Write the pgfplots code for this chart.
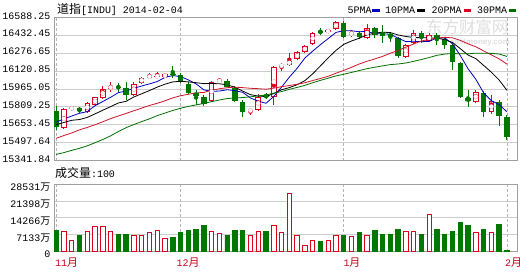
\documentclass[border=0pt]{standalone}
\usepackage{fontspec}
\setmonofont{Liberation Mono}
\newfontfamily\cjk{Noto Sans CJK SC}
\usepackage{pgfplots}
\pgfplotsset{compat=1.18}
\usepackage{pgfplotstable}

\definecolor{cred}{RGB}{220,0,30}
\definecolor{cgreen}{RGB}{0,120,0}
\definecolor{mablue}{RGB}{0,0,190}
\definecolor{mared}{RGB}{205,20,40}
\definecolor{magreen}{RGB}{0,110,0}
\definecolor{gridc}{RGB}{205,205,205}
\definecolor{framec}{RGB}{160,160,160}
\definecolor{monthc}{RGB}{200,0,30}
\definecolor{wmark}{RGB}{222,222,222}

% up (red, hollow) candles: index, open, high, low, close
\pgfplotstableread{
i o h l c
1 15622.1 15798.8 15616.0 15787.5
2 15793.5 15820.5 15777.0 15798.8
4 15766.6 15851.0 15755.2 15842.3
5 15824.9 15898.9 15816.2 15892.8
6 15885.8 15990.3 15881.5 15968.5
7 15972.8 16025.1 15940.6 15981.6
10 15911.9 16025.1 15907.6 16012.0
11 16013.8 16068.6 16007.7 16064.2
12 16068.6 16106.0 16048.6 16074.7
13 16072.9 16114.7 16057.3 16078.2
14 16066.0 16103.4 16059.9 16096.4
20 15859.7 16033.8 15851.0 16025.1
21 16032.0 16064.2 16013.8 16037.3
25 15774.4 15796.2 15737.8 15779.6
26 15781.4 15920.6 15772.7 15898.9
28 15894.5 16164.3 15824.9 16160.0
29 16161.7 16187.8 16123.4 16171.3
30 16173.0 16274.9 16164.3 16212.2
31 16222.7 16294.9 16216.6 16283.6
32 16283.6 16347.1 16277.5 16341.9
33 16355.8 16460.3 16347.1 16455.0
35 16457.7 16486.4 16451.6 16477.7
36 16483.8 16558.6 16477.7 16549.9
38 16442.9 16477.7 16419.4 16449.0
40 16405.4 16529.9 16399.3 16499.4
45 16245.3 16355.8 16238.3 16347.1
46 16367.1 16477.7 16360.2 16455.9
48 16384.5 16454.2 16377.6 16434.2
54 15853.6 15955.4 15846.6 15940.6
56 15766.6 15911.9 15746.5 15857.1
}\up

% down (green, filled) candles
\pgfplotstableread{
i o h l c
0 15772.7 15816.2 15611.7 15630.8
3 15796.2 15807.5 15755.2 15774.4
8 15983.3 16016.4 15942.4 15976.3
9 15970.2 16025.1 15868.4 15916.3
15 16096.4 16164.3 16057.3 16091.2
16 16086.0 16103.4 16016.4 16023.3
17 16007.7 16025.1 15920.6 15929.3
18 15929.3 15955.4 15824.9 15903.2
19 15894.5 15911.9 15820.5 15837.9
22 16032.0 16051.2 15981.6 15985.0
23 15972.8 15990.3 15851.0 15864.0
24 15853.6 15868.4 15723.0 15764.0
27 15911.9 15929.3 15877.1 15891.9
34 16464.6 16492.5 16434.2 16457.7
37 16541.2 16556.0 16412.4 16421.1
39 16454.2 16469.0 16403.7 16414.1
41 16492.5 16506.4 16405.4 16438.5
42 16457.7 16521.2 16361.9 16427.2
43 16442.9 16462.9 16375.8 16419.4
44 16405.4 16416.8 16231.4 16248.8
47 16449.0 16469.0 16361.9 16408.0
49 16434.2 16449.0 16347.1 16396.7
50 16396.7 16414.1 16309.7 16351.5
51 16347.1 16355.8 16129.5 16199.2
52 16187.8 16199.2 15885.8 15897.1
53 15883.2 15955.4 15810.1 15857.1
55 15926.7 15946.7 15723.0 15761.3
57 15853.6 15868.4 15642.1 15726.5
58 15723.0 15737.8 15524.6 15543.7
}\dn

% moving averages
\pgfplotstableread{
i ma5 ma10 ma20 ma30
0 15676.5 15654.9 15535.0 15395.0
1 15703.8 15672.8 15559.6 15410.7
2 15729.0 15692.0 15581.6 15430.7
3 15753.1 15698.3 15608.7 15448.1
4 15766.8 15717.1 15629.6 15469.5
5 15819.2 15747.8 15653.1 15496.8
6 15855.4 15779.6 15679.1 15524.4
7 15891.9 15810.5 15706.1 15556.6
8 15932.3 15842.7 15729.2 15593.6
9 15947.1 15856.9 15752.0 15627.7
10 15970.9 15895.1 15775.0 15655.0
11 15990.1 15922.7 15797.8 15680.6
12 16008.7 15950.3 15821.1 15704.5
13 16029.1 15980.7 15839.5 15732.7
14 16065.1 16006.1 15861.6 15755.1
15 16080.9 16025.9 15886.9 15777.4
16 16072.8 16031.4 15905.5 15796.5
17 16043.7 16026.2 15918.3 15812.8
18 16008.7 16018.9 15930.8 15825.8
19 15957.0 16011.0 15934.0 15838.3
20 15943.8 16012.4 15953.7 15854.1
21 15946.6 16009.7 15966.2 15868.4
22 15957.7 16000.7 15975.5 15881.0
23 15949.9 15979.3 15980.0 15886.1
24 15935.1 15946.0 15976.1 15889.8
25 15886.0 15914.9 15970.4 15896.2
26 15858.3 15902.4 15966.9 15904.5
27 15839.7 15898.7 15962.4 15911.8
28 15898.9 15924.4 15971.6 15928.6
29 15980.3 15957.7 15984.4 15941.9
30 16066.9 15976.4 15994.4 15961.3
31 16143.8 16001.1 16005.4 15977.8
32 16233.8 16036.7 16018.7 15995.9
33 16292.8 16095.8 16037.6 16018.6
34 16350.1 16165.2 16055.6 16039.1
35 16403.2 16235.0 16074.9 16058.6
36 16456.4 16300.1 16101.3 16078.0
37 16472.3 16353.0 16125.9 16092.6
38 16471.1 16381.9 16153.2 16108.4
39 16462.4 16406.2 16182.0 16125.0
40 16466.7 16434.9 16205.7 16141.2
41 16444.4 16450.4 16225.7 16153.7
42 16445.6 16459.0 16247.9 16165.5
43 16439.7 16455.4 16275.6 16176.8
44 16406.7 16434.5 16299.9 16181.9
45 16376.2 16421.5 16328.2 16190.4
46 16379.7 16412.1 16356.1 16204.9
47 16375.8 16410.7 16381.9 16220.8
48 16378.8 16409.3 16395.6 16238.5
49 16408.4 16407.5 16406.9 16257.2
50 16409.3 16392.7 16413.8 16268.0
51 16357.9 16368.8 16409.6 16273.4
52 16255.7 16315.8 16387.4 16270.5
53 16140.3 16259.6 16357.5 16270.3
54 16049.1 16228.7 16331.6 16276.2
55 15931.1 16170.2 16295.8 16275.5
56 15862.6 16110.3 16261.2 16274.2
57 15828.5 16042.1 16226.4 16268.6
58 15765.8 15953.1 16181.2 16248.1
}\ma

% volume (unit: 10^4 shares), up days
\pgfplotstableread{
i v
1 8724
2 4931
4 8724
5 10831
6 10831
7 8430
10 7038
11 7038
12 8302
13 9145
14 5647
20 8724
21 7754
25 7038
26 8724
28 11252
29 8302
30 24600
31 7038
32 2823
33 4636
35 4931
36 7038
38 6322
40 7038
45 8724
46 8724
48 15763
54 8007
56 8007
}\volup

% volume, down days
\pgfplotstableread{
i v
0 9145
3 7038
8 7459
9 7459
15 6069
16 8007
17 9145
18 9567
19 11252
22 7038
23 9145
24 9145
27 8724
34 4214
37 7038
39 8007
41 9145
42 7459
43 7459
44 9567
47 7459
49 9567
50 7459
51 8724
52 12222
53 10958
55 9567
57 11674
58 420
}\voldn

\pgfplotsset{
  kbase/.style={
    scale only axis, width=463bp,
    xmin=-0.283, xmax=59.30,
    axis line style={framec, line width=0.9bp},
    tick style={draw=none},
    scaled x ticks=false, scaled y ticks=false,
    xtick={0,16,37,58}, xticklabel=\empty,
    xmajorgrids, ymajorgrids,
    x grid style={framec!80, dashed, dash pattern=on 2.5bp off 2.5bp, line width=0.7bp},
    y grid style={gridc, line width=0.8bp},
    ticklabel style={font=\ttfamily\fontsize{10}{10}\selectfont},
    yticklabel style={inner sep=0pt, anchor=east, xshift=-3.5bp},
  },
  wick/.style={only marks, mark=none, #1,
    error bars/.cd, y dir=both, y explicit, error mark=none,
    error bar style={line width=1bp, #1}},
  body/.style 2 args={only marks, mark=none, #1,
    error bars/.cd, y dir=both, y explicit, error mark=none,
    error bar style={line width=#2, #1}},
}

\begin{document}
\begin{tikzpicture}
\path (0bp,0bp) rectangle (529bp,-277bp);

% watermark
\node[anchor=base west, inner sep=0, text=wmark] at (426bp,-33bp)
  {\cjk\fontsize{16.5}{16.5}\selectfont 东方财富网};
\node[anchor=base west, inner sep=0, text=wmark] at (450bp,-44bp)
  {\fontspec{Liberation Sans}\bfseries\fontsize{8}{8}\selectfont eastmoney.com};

\begin{axis}[kbase,
  at={(54bp,-160.5bp)}, anchor=south west, height=143.2bp,
  ymin=15341.84, ymax=16588.25,
  ytick={15341.84,15497.64,15653.45,15809.25,15965.05,16120.85,16276.65,16432.45,16588.25},
  yticklabels={15341.84,15497.64,15653.45,15809.25,15965.05,16120.85,16276.65,16432.45,16588.25},
  yticklabel style={yshift=1.5bp},
]
% wicks
\addplot[wick=cred] table[x=i, y expr={(\thisrow{h}+\thisrow{l})/2}, y error expr={(\thisrow{h}-\thisrow{l})/2}] {\up};
\addplot[wick=cgreen] table[x=i, y expr={(\thisrow{h}+\thisrow{l})/2}, y error expr={(\thisrow{h}-\thisrow{l})/2}] {\dn};
% bodies
\addplot[body={cgreen}{5.5bp}] table[x=i, y expr={(\thisrow{o}+\thisrow{c})/2}, y error expr={max(abs(\thisrow{o}-\thisrow{c})/2,4.4)}] {\dn};
\addplot[body={cred}{5.5bp}] table[x=i, y expr={(\thisrow{o}+\thisrow{c})/2}, y error expr={max(abs(\thisrow{o}-\thisrow{c})/2,4.4)}] {\up};
\addplot[body={white}{3.5bp}] table[x=i, y expr={(\thisrow{o}+\thisrow{c})/2}, y error expr={max(abs(\thisrow{o}-\thisrow{c})/2-8.7,0)}] {\up};
% moving averages
\addplot[mablue, line width=0.8bp, mark=none] table[x=i, y=ma5] {\ma};
\addplot[black, line width=0.8bp, mark=none] table[x=i, y=ma10] {\ma};
\addplot[mared, line width=0.8bp, mark=none] table[x=i, y=ma20] {\ma};
\addplot[magreen, line width=0.8bp, mark=none] table[x=i, y=ma30] {\ma};
\end{axis}

\begin{axis}[kbase,
  at={(54bp,-251.7bp)}, anchor=south west, height=67.7bp,
  ymin=0, ymax=28531,
  ytick={0,7133,14266,21398,28531},
  yticklabels={0,7133{\cjk 万},14266{\cjk 万},21398{\cjk 万},28531{\cjk 万}},
  yticklabel style={yshift=-3bp},
]
\addplot[ybar, bar width=4.4bp, bar shift=0pt, fill=cgreen, draw=cgreen, line width=0.9bp] table[x=i, y=v] {\voldn};
\addplot[ybar, bar width=4.4bp, bar shift=0pt, fill=white, draw=cred, line width=0.9bp] table[x=i, y=v] {\volup};
\end{axis}

% title and legend
\node[anchor=base west, inner sep=0] at (57bp,-13.5bp)
  {{\cjk\fontsize{12}{12}\selectfont 道指}{\ttfamily\fontsize{10}{10}\selectfont [INDU] 2014-02-04}};
\begin{scope}[every node/.style={anchor=base west, inner sep=0, font=\ttfamily\fontsize{10}{10}\selectfont}]
\node at (347.5bp,-13.5bp) {5PMA};
\fill[mablue] (372bp,-9bp) rectangle (379.5bp,-11.5bp);
\node at (385bp,-13.5bp) {10PMA};
\fill[black] (417bp,-9bp) rectangle (424.5bp,-11.5bp);
\node at (431.5bp,-13.5bp) {20PMA};
\fill[cred] (463.5bp,-9bp) rectangle (471bp,-11.5bp);
\node at (477bp,-13.5bp) {30PMA};
\fill[magreen] (508.5bp,-9bp) rectangle (516bp,-11.5bp);
\end{scope}

\node[anchor=base west, inner sep=0] at (55bp,-177bp)
  {{\cjk\fontsize{12}{12}\selectfont 成交量}{\ttfamily\fontsize{10}{10}\selectfont :100}};

% month labels
\begin{scope}[every node/.style={anchor=base west, inner sep=0, text=monthc}]
\node at (55bp,-266bp) {{\ttfamily\fontsize{10}{10}\selectfont 11}{\cjk\fontsize{11}{11}\selectfont 月}};
\node at (176.5bp,-266bp) {{\ttfamily\fontsize{10}{10}\selectfont 12}{\cjk\fontsize{11}{11}\selectfont 月}};
\node at (343.3bp,-266bp) {{\ttfamily\fontsize{10}{10}\selectfont 1}{\cjk\fontsize{11}{11}\selectfont 月}};
\node at (505bp,-266bp) {{\ttfamily\fontsize{10}{10}\selectfont 2}{\cjk\fontsize{11}{11}\selectfont 月}};
\end{scope}
\end{tikzpicture}
\end{document}
